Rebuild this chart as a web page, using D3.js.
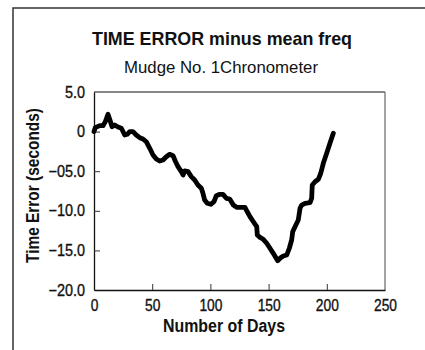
<!DOCTYPE html>
<html>
<head>
<meta charset="utf-8">
<script src="https://cdn.jsdelivr.net/npm/d3@7"></script>
<style>
  html, body { margin: 0; padding: 0; background: #fff; }
  svg { display: block; }
  text { font-family: "Liberation Sans", Arial, sans-serif; fill: #111; }
</style>
</head>
<body>
<svg id="chart" width="425" height="350"></svg>
<script>
// Elapsed days of observation
const days = [0, 1.1, 4.9, 7.7, 9.7, 12.0, 13.7, 15.5, 17.8, 20.6, 23.5, 26.4, 28.6, 30.7, 33.5,
  36.3, 39.3, 42.1, 44.9, 47.9, 50.7, 53.5, 56.4, 59.3, 62.1, 65.0, 67.9, 69.8, 72.2, 75.0,
  76.5, 77.9, 80.8, 83.6, 86.5, 89.3, 92.2, 93.6, 95.1, 97.3, 100.3, 103.1, 105.1, 108.0, 110.8,
  113.7, 116.6, 119.7, 122.6, 126.9, 129.7, 131.2, 134.0, 136.9, 139.8, 140.3, 142.6, 145.4, 148.4,
  151.2, 154.0, 157.8, 159.8, 162.6, 165.6, 167.8, 169.8, 170.7, 172.7, 175.5, 177.0, 178.4, 181.3,
  185.6, 187.0, 187.5, 189.9, 192.7, 194.8, 197.0, 199.9, 202.7, 205.6];

// Accumulated time error (seconds) after removing the mean rate
const timeError = [0.0, 0.5, 0.75, 0.75, 1.25, 2.18, 1.46, 0.62, 0.83, 0.58, 0.42, -0.43, -0.34, -0.01, -0.01,
  -0.43, -0.77, -0.93, -1.28, -2.11, -2.95, -3.46, -3.71, -3.59, -3.17, -2.87, -3.04, -3.71, -4.43, -5.06,
  -5.48, -4.97, -5.06, -5.69, -6.11, -6.74, -7.16, -7.79, -8.64, -9.05, -9.18, -8.85, -8.09, -7.92, -7.92,
  -8.42, -8.51, -9.27, -9.56, -9.56, -9.56, -9.99, -10.74, -11.38, -12.01, -13.06, -13.35, -13.60, -14.10,
  -14.73, -15.37, -16.30, -16.00, -15.71, -15.58, -14.73, -13.69, -12.64, -12.01, -11.16, -9.68, -9.27, -9.05,
  -8.98, -8.42, -6.74, -6.33, -6.02, -5.26, -4.00, -2.74, -1.48, -0.21];

// Axis ticks and their printed labels
const xTicks = [0, 50, 100, 150, 200, 250];
const yTicks = [5, 0, -5, -10, -15, -20];
const yTickLabels = ["5.0", "0", "\u221205.0", "\u221210.0", "\u221215.0", "\u221220.0"];

const titleText = "TIME ERROR minus mean freq";
const subtitleText = "Mudge No. 1Chronometer";
const xTitle = "Number of Days";
const yTitle = "Time Error (seconds)";

const svg = d3.select("#chart");
const plot = { left: 94, right: 385, top: 92, bottom: 290 };

const x = d3.scaleLinear().domain([0, 250]).range([plot.left, plot.right]);
const y = d3.scaleLinear().domain([-20, 5]).range([plot.bottom, plot.top]);

// Squeeze text horizontally to a narrow face
function condense(sel, factor) {
  sel.each(function () {
    const w = this.getComputedTextLength();
    d3.select(this).attr("textLength", w * factor).attr("lengthAdjust", "spacingAndGlyphs");
  });
}

// Outer frame (top and left edges)
svg.append("path")
  .attr("d", "M13,350 V8 H425")
  .attr("fill", "none")
  .attr("stroke", "#333")
  .attr("stroke-width", 1.5);

// Plot box: top and right borders
svg.append("line")
  .attr("x1", plot.left).attr("x2", plot.right)
  .attr("y1", plot.top).attr("y2", plot.top)
  .attr("stroke", "#111").attr("stroke-width", 1);
svg.append("line")
  .attr("x1", plot.right).attr("x2", plot.right)
  .attr("y1", plot.top).attr("y2", plot.bottom)
  .attr("stroke", "#666").attr("stroke-width", 1.2);

// X axis with inward ticks
const xAxis = d3.axisBottom(x)
  .tickValues(xTicks)
  .tickSizeInner(-6)
  .tickSizeOuter(0)
  .tickPadding(10)
  .tickFormat(d3.format("d"));
const gx = svg.append("g")
  .attr("transform", `translate(0,${plot.bottom})`)
  .call(xAxis);
gx.select(".domain").attr("stroke", "#111").attr("stroke-width", 1.3);
gx.selectAll(".tick line").attr("stroke", "#333").attr("stroke-width", 1)
  .filter(d => d === 0 || d === 250).remove();
gx.selectAll(".tick text")
  .attr("font-family", null).attr("font-size", null)
  .style("font-size", "16px")
  .attr("stroke", "#111").attr("stroke-width", 0.35)
  .call(condense, 0.86);

// Y axis with inward ticks
const yAxis = d3.axisLeft(y)
  .tickValues(yTicks)
  .tickSizeInner(-6)
  .tickSizeOuter(0)
  .tickPadding(9)
  .tickFormat((d, i) => yTickLabels[i]);
const gy = svg.append("g")
  .attr("transform", `translate(${plot.left},0)`)
  .call(yAxis);
gy.select(".domain").attr("stroke", "#111").attr("stroke-width", 1.3);
gy.selectAll(".tick line").attr("stroke", "#333").attr("stroke-width", 1)
  .filter(d => d === 5 || d === -20).remove();
gy.selectAll(".tick text")
  .attr("font-family", null).attr("font-size", null)
  .style("font-size", "16px")
  .attr("stroke", "#111").attr("stroke-width", 0.35)
  .call(condense, 0.9);

// Time error trace
const line = d3.line()
  .x((d, i) => x(days[i]))
  .y(d => y(d));
svg.append("path")
  .datum(timeError)
  .attr("d", line)
  .attr("fill", "none")
  .attr("stroke", "#000")
  .attr("stroke-width", 4.8)
  .attr("stroke-linejoin", "round")
  .attr("stroke-linecap", "round");

// Titles
svg.append("text")
  .attr("x", 222).attr("y", 45)
  .attr("text-anchor", "middle")
  .attr("textLength", 260).attr("lengthAdjust", "spacingAndGlyphs")
  .style("font-size", "18.5px").style("font-weight", "bold")
  .text(titleText);
svg.append("text")
  .attr("x", 221).attr("y", 72.5)
  .attr("text-anchor", "middle")
  .attr("textLength", 194).attr("lengthAdjust", "spacingAndGlyphs")
  .style("font-size", "16.5px")
  .text(subtitleText);
svg.append("text")
  .attr("x", 224).attr("y", 331.5)
  .attr("text-anchor", "middle")
  .attr("textLength", 122).attr("lengthAdjust", "spacingAndGlyphs")
  .style("font-size", "17.5px").style("font-weight", "bold")
  .text(xTitle);
svg.append("text")
  .attr("transform", "translate(38.5,185.5) rotate(-90)")
  .attr("text-anchor", "middle")
  .attr("textLength", 155).attr("lengthAdjust", "spacingAndGlyphs")
  .style("font-size", "17.5px").style("font-weight", "bold")
  .text(yTitle);
</script>
</body>
</html>
